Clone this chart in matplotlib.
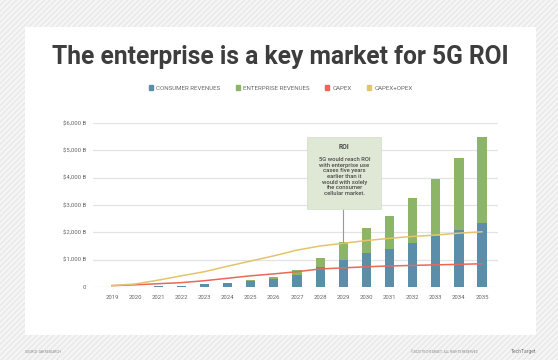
import matplotlib.pyplot as plt
from matplotlib.patches import Rectangle

plt.rcParams["font.family"] = ["Roboto", "DejaVu Sans"]

years = list(range(2019, 2036))
consumer = [0, 0, 50, 50, 100, 150, 220, 300, 450, 730, 990, 1250, 1390, 1610, 1870, 2090, 2340]
enterprise = [0, 0, 0, 0, 0, 0, 40, 70, 170, 330, 660, 910, 1210, 1650, 2080, 2630, 3160]
capex = [50, 80, 120, 160, 230, 320, 410, 480, 560, 660, 700, 740, 770, 790, 810, 830, 850]
capex_opex = [50, 110, 250, 410, 560, 760, 950, 1140, 1350, 1500, 1600, 1700, 1780, 1850, 1900, 1970, 2020]
y_ticks = [0, 1000, 2000, 3000, 4000, 5000, 6000]
y_labels = ["0", "$1,000 B", "$2,000 B", "$3,000 B", "$4,000 B", "$5,000 B", "$6,000 B"]
series_names = ["CONSUMER REVENUES", "ENTERPRISE REVENUES", "CAPEX", "CAPEX+OPEX"]

c_cons = "#5b8ea8"
c_ent = "#8db567"
c_capex = "#e8685a"
c_opex = "#e3c46b"
grey = "#666666"

fig = plt.figure(figsize=(5.58, 3.6), dpi=100)
fig.patch.set_facecolor("#f5f5f5")
# hatched backdrop and white card
fig.patches.append(Rectangle((0, 0), 1, 1, transform=fig.transFigure, facecolor="none",
                             edgecolor="#e8e8e8", hatch="//////", lw=0, zorder=-2))
fig.patches.append(Rectangle((25 / 558, 1 - 335 / 360), 511 / 558, 308 / 360,
                             transform=fig.transFigure, facecolor="white",
                             edgecolor="none", zorder=-1))

fig.text(0.503, 1 - 57 / 360, "The enterprise is a key market for 5G ROI", ha="center",
         va="center", fontsize=17.7, fontweight="bold", color="#3d3d3d")

ax = fig.add_axes([93 / 558, 73 / 360, 405 / 558, 164 / 360])
ax.set_xlim(2018.18, 2035.69)
ax.set_ylim(0, 6000)

ax.bar(years, consumer, width=0.4, color=c_cons, zorder=2)
ax.bar(years, enterprise, width=0.4, bottom=consumer, color=c_ent, zorder=2)
ax.plot(years, capex, color=c_capex, lw=1.1, zorder=3)
ax.plot(years, capex_opex, color=c_opex, lw=1.1, zorder=3)

ax.set_yticks(y_ticks)
ax.set_yticklabels(y_labels)
ax.set_xticks(years)
ax.tick_params(axis="both", length=0, labelsize=4.3, colors=grey)
ax.tick_params(axis="y", pad=5)
ax.tick_params(axis="x", pad=6)
ax.grid(axis="y", color="#e3e3e3", lw=0.9, zorder=0)
for s in ax.spines.values():
    s.set_visible(False)

# ROI callout above the 2029 bar
i = years.index(2029)
top = consumer[i] + enterprise[i]
bx0, bx1, by0, by1 = years[i] - 1.55, years[i] + 1.65, 2850, 5490
ax.plot([years[i], years[i]], [top, by0], color="#999999", lw=0.8, zorder=3)
ax.add_patch(Rectangle((bx0, by0), bx1 - bx0, by1 - by0, facecolor="#dfe8d4",
                       edgecolor="#d3dcc8", lw=0.5, zorder=4))
cx = (bx0 + bx1) / 2
ax.text(cx, 5120, "ROI", ha="center", va="center", fontsize=4.8, fontweight="bold",
        color="#4a4a4a", zorder=5)
ax.text(cx, 4040, "5G would reach ROI\nwith enterprise use\ncases five years\nearlier than it\n"
        "would with solely\nthe consumer\ncellular market.", ha="center", va="center",
        fontsize=4.2, fontweight="medium", color="#4a4a4a", linespacing=1.15, zorder=5)

handles = [Rectangle((0, 0), 1, 1, color=c) for c in [c_cons, c_ent, c_capex, c_opex]]
fig.legend(handles, series_names, loc="center", bbox_to_anchor=(0.503, 1 - 88 / 360),
           ncol=4, frameon=False, fontsize=4.4, handlelength=0.7, handleheight=0.7,
           columnspacing=2.5, handletextpad=0.5, labelcolor=grey)

fig.text(25 / 558, 1 - 352 / 360, "SOURCE: ABI RESEARCH", fontsize=2.3, color="#888888",
         va="center")
fig.text(478 / 558, 1 - 352 / 360, "©2020 TECHTARGET. ALL RIGHTS RESERVED", fontsize=2.3,
         color="#888888", va="center", ha="right")
fig.text(536 / 558, 1 - 352 / 360, "TechTarget", fontsize=3.6, color="#777777",
         va="center", ha="right")

fig.savefig("out.png", dpi=100, facecolor=fig.get_facecolor())
